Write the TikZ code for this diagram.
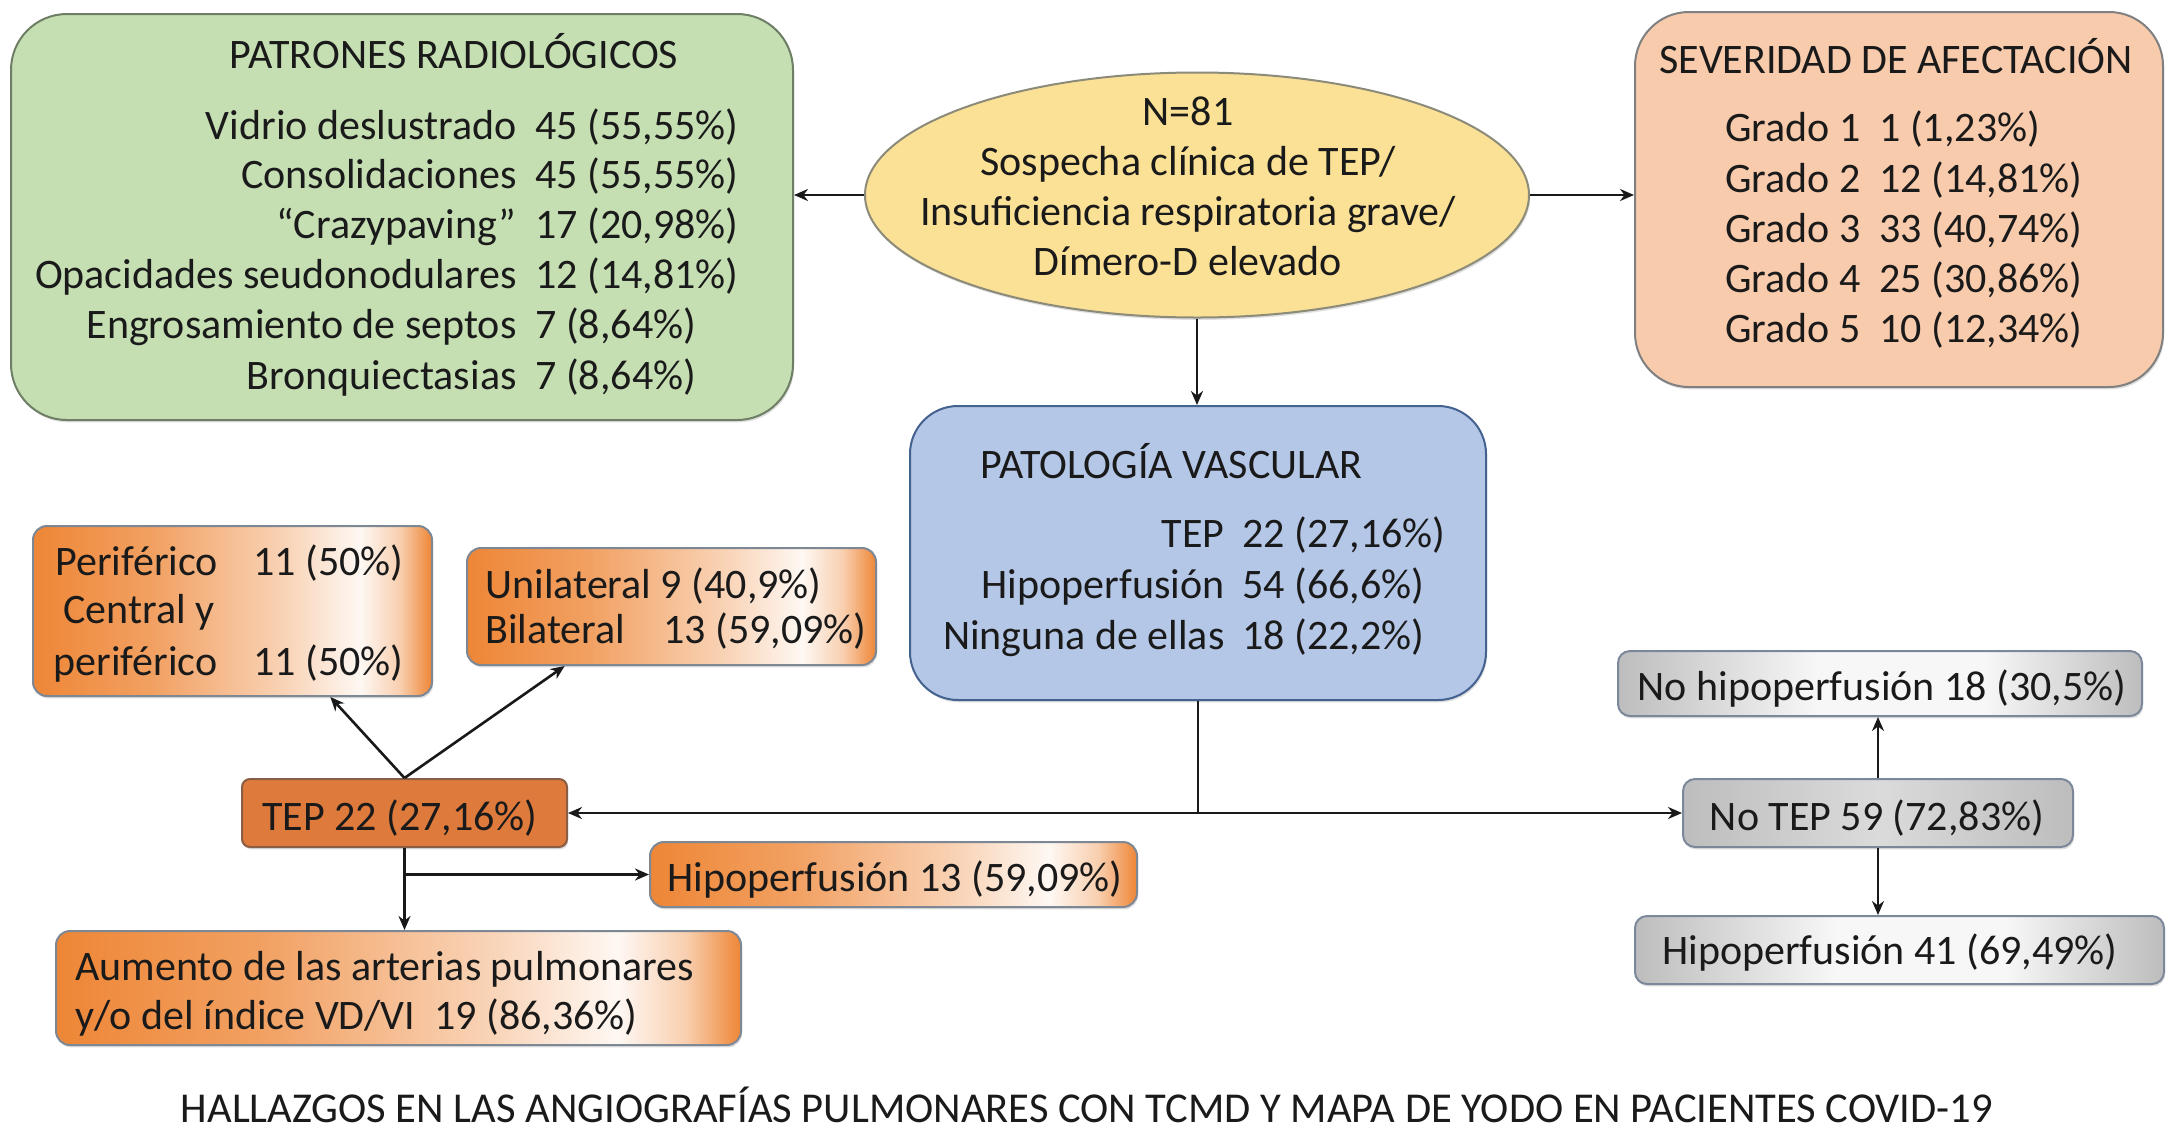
\documentclass[tikz,border=0pt]{standalone}
\usepackage{fontspec}
\usepackage{graphicx}
\setmainfont{Carlito}
\usetikzlibrary{arrows.meta,shapes.geometric,shadows,calc}

\definecolor{gFill}{HTML}{C5DFB3}
\definecolor{gLine}{HTML}{6F7F66}
\definecolor{yFill}{HTML}{FBE196}
\definecolor{yLine}{HTML}{8C8A78}
\definecolor{sFill}{HTML}{F8CBAD}
\definecolor{sLine}{HTML}{808080}
\definecolor{bFill}{HTML}{B4C7E7}
\definecolor{bLine}{HTML}{44628F}
\definecolor{tFill}{HTML}{DF7A3D}
\definecolor{tLine}{HTML}{8A5E45}
\definecolor{oC}{HTML}{EE8636}
\definecolor{oLine}{HTML}{7E8794}
\definecolor{grC}{HTML}{BDBDBD}
\definecolor{grLine}{HTML}{7C889A}
\definecolor{txtC}{HTML}{1A1A1A}

\pgfdeclarehorizontalshading{ograd}{100bp}{color(0bp)=(oC); color(25bp)=(oC); color(40bp)=(oC!78!white); color(57bp)=(oC!35!white); color(66bp)=(oC!6!white); color(71bp)=(oC!40!white); color(75bp)=(oC); color(100bp)=(oC)}
\pgfdeclarehorizontalshading{grgrad}{100bp}{color(0bp)=(grC); color(25bp)=(grC); color(44bp)=(grC!12!white); color(60bp)=(grC!12!white); color(75bp)=(grC); color(100bp)=(grC)}
\pgfdeclarehorizontalshading{ntgrad}{100bp}{color(0bp)=(grC); color(25bp)=(grC); color(50bp)=(grC!55!white); color(75bp)=(grC); color(100bp)=(grC)}

\tikzset{
  txt/.style={font=\fontsize{21}{25}\selectfont, inner sep=0pt, text=txtC},
  conn/.style={line width=1.3pt, draw=black!90, -{Stealth[length=7pt,width=6pt]}},
  plainline/.style={line width=1.3pt, draw=black!90},
  boxbase/.style={inner sep=0pt, line width=1pt, drop shadow={shadow xshift=0.6pt, shadow yshift=-1.2pt, opacity=0.25}},
  greenbox/.style={boxbase, rectangle, rounded corners=28pt, fill=gFill, draw=gLine},
  yellowell/.style={boxbase, ellipse, fill=yFill, draw=yLine},
  sevbox/.style={boxbase, rectangle, rounded corners=27pt, fill=sFill, draw=sLine},
  bluebox/.style={boxbase, rectangle, rounded corners=24pt, fill=bFill, draw=bLine},
  tepbox/.style={boxbase, rectangle, rounded corners=4pt, fill=tFill, draw=tLine},
  orangebox/.style={boxbase, rectangle, rounded corners=7pt, shade, shading=ograd, draw=oLine},
  graybox/.style={boxbase, rectangle, rounded corners=6pt, shade, shading=grgrad, draw=grLine},
  notepbox/.style={boxbase, rectangle, rounded corners=6pt, shade, shading=ntgrad, draw=grLine},
}

\begin{document}
\begin{tikzpicture}[x=0.5pt,y=-0.5pt]
\fill[white] (0,0) rectangle (2175,1131);
\useasboundingbox (0,0) rectangle (2175,1131);

% ---------- boxes ----------
\node[greenbox, minimum width=391pt, minimum height=203pt] (pat) at (402,217) {};
\node[yellowell, minimum width=332pt, minimum height=122.5pt] (ell) at (1197,195) {};
\node[sevbox, minimum width=264pt, minimum height=187.5pt] (sev) at (1899,199.5) {};
\node[bluebox, minimum width=288pt, minimum height=147pt] (vas) at (1198,553) {};
\node[tepbox, minimum width=162.5pt, minimum height=34pt] (tep) at (404.5,813) {};
\node[orangebox, minimum width=199.5pt, minimum height=85pt] (per) at (232.5,611) {};
\node[orangebox, minimum width=204.5pt, minimum height=58.5pt] (uni) at (671.5,606.5) {};
\node[orangebox, minimum width=243.5pt, minimum height=32.5pt] (hip13) at (893.5,874.5) {};
\node[orangebox, minimum width=342.5pt, minimum height=57pt] (aum) at (398.5,988) {};
\node[notepbox, minimum width=195pt, minimum height=34pt] (notep) at (1878,813) {};
\node[graybox, minimum width=262pt, minimum height=32.5pt] (nohip) at (1880,683.5) {};
\node[graybox, minimum width=264.5pt, minimum height=34pt] (hip41) at (1899.5,950) {};

% ---------- texts: patrones ----------
\node[txt] (patT) at (454,51) {PATRONES RADIOLÓGICOS};
\node[txt, anchor=mid east] (p1a) at (517,135) {Vidrio deslustrado};
\node[txt, anchor=mid west] (p1b) at (535,135) {45 (55,55\%)};
\node[txt, anchor=mid east] (p2a) at (517,184) {Consolidaciones};
\node[txt, anchor=mid west] (p2b) at (535,184) {45 (55,55\%)};
\node[txt, anchor=mid east] (p3a) at (517,234) {“Crazypaving”};
\node[txt, anchor=mid west] (p3b) at (535,234) {17 (20,98\%)};
\node[txt, anchor=mid east] (p4a) at (517,284) {Opacidades seudonodulares};
\node[txt, anchor=mid west] (p4b) at (535,284) {12 (14,81\%)};
\node[txt, anchor=mid east] (p5a) at (517,334) {Engrosamiento de septos};
\node[txt, anchor=mid west] (p5b) at (535,334) {7 (8,64\%)};
\node[txt, anchor=mid east] (p6a) at (517,385) {Bronquiectasias};
\node[txt, anchor=mid west] (p6b) at (535,385) {7 (8,64\%)};

% ---------- ellipse text ----------
\node[txt, align=center] (ellT) at (1188,186) {N=81\\Sospecha clínica de TEP/\\Insuficiencia respiratoria grave/\\Dímero-D elevado};

% ---------- severidad ----------
\node[txt] (sevT) at (1896,56) {SEVERIDAD DE AFECTACIÓN};
\node[txt, anchor=mid west] (s1a) at (1725,137) {Grado 1};
\node[txt, anchor=mid west] (s1b) at (1879,137) {1 (1,23\%)};
\node[txt, anchor=mid west] (s2a) at (1725,188) {Grado 2};
\node[txt, anchor=mid west] (s2b) at (1879,188) {12 (14,81\%)};
\node[txt, anchor=mid west] (s3a) at (1725,238) {Grado 3};
\node[txt, anchor=mid west] (s3b) at (1879,238) {33 (40,74\%)};
\node[txt, anchor=mid west] (s4a) at (1725,288) {Grado 4};
\node[txt, anchor=mid west] (s4b) at (1879,288) {25 (30,86\%)};
\node[txt, anchor=mid west] (s5a) at (1725,338) {Grado 5};
\node[txt, anchor=mid west] (s5b) at (1879,338) {10 (12,34\%)};

% ---------- patologia vascular ----------
\node[txt, anchor=mid west] (vasT) at (980,474) {PATOLOGÍA VASCULAR};
\node[txt, anchor=mid east] (v1a) at (1225,543) {TEP};
\node[txt, anchor=mid west] (v1b) at (1242,543) {22 (27,16\%)};
\node[txt, anchor=mid east] (v2a) at (1225,594) {Hipoperfusión};
\node[txt, anchor=mid west] (v2b) at (1242,594) {54 (66,6\%)};
\node[txt, anchor=mid east] (v3a) at (1225,645) {Ninguna de ellas};
\node[txt, anchor=mid west] (v3b) at (1242,645) {18 (22,2\%)};

% ---------- lower left ----------
\node[txt, anchor=mid west] (pe1a) at (55,571) {Periférico};
\node[txt, anchor=mid west] (pe1b) at (253,571) {11 (50\%)};
\node[txt, anchor=mid west] (pe2a) at (63,619) {Central y};
\node[txt, anchor=mid west] (pe3a) at (53,671) {periférico};
\node[txt, anchor=mid west] (pe3b) at (253,671) {11 (50\%)};
\node[txt, anchor=mid west] (u1) at (485,594) {Unilateral 9 (40,9\%)};
\node[txt, anchor=mid west] (u2a) at (485,639) {Bilateral};
\node[txt, anchor=mid west] (u2b) at (663,639) {13 (59,09\%)};
\node[txt] (tepT) at (400,818) {TEP 22 (27,16\%)};
\node[txt] (hip13T) at (895,880) {Hipoperfusión 13 (59,09\%)};
\node[txt, anchor=mid west] (a1) at (75,976) {Aumento de las arterias pulmonares};
\node[txt, anchor=mid west] (a2) at (75,1025) {y/o del índice VD/VI\ \ 19 (86,36\%)};

% ---------- lower right ----------
\node[txt] (notepT) at (1877,818) {No TEP 59 (72,83\%)};
\node[txt] (nohipT) at (1882,689) {No hipoperfusión 18 (30,5\%)};
\node[txt] (hip41T) at (1890,953) {Hipoperfusión 41 (69,49\%)};

% ---------- caption ----------
\node[inner sep=0pt, text=txtC] (cap) at (1087,1105) {\resizebox{906pt}{!}{\fontsize{20}{24}\selectfont HALLAZGOS EN LAS ANGIOGRAFÍAS PULMONARES CON TCMD Y MAPA DE YODO EN PACIENTES COVID-19}};

% ---------- connectors ----------
\draw[conn] (ell.west) -- (ell.west -| pat.east);
\draw[conn] (ell.east) -- (ell.east -| sev.west);
\draw[conn] (ell.south) -- (ell.south |- vas.north);
\draw[plainline] (vas.south) -- (vas.south |- tep.east) coordinate (junc);
\draw[conn] (junc) -- (tep.east);
\draw[conn] (junc) -- (notep.west);
\draw[conn] (tep.north) -- ($(per.south west)!0.744!(per.south east)$);
\draw[conn] (tep.north) -- ($(uni.south west)!0.24!(uni.south east)$);
\draw[conn] (tep.south) -- (tep.south |- aum.north);
\coordinate (branch) at (tep.south |- hip13.west);
\draw[conn] (branch) -- (hip13.west);
\draw[conn] (notep.north) -- (notep.north |- nohip.south);
\draw[conn] (notep.south) -- (notep.south |- hip41.north);
\end{tikzpicture}
\end{document}
